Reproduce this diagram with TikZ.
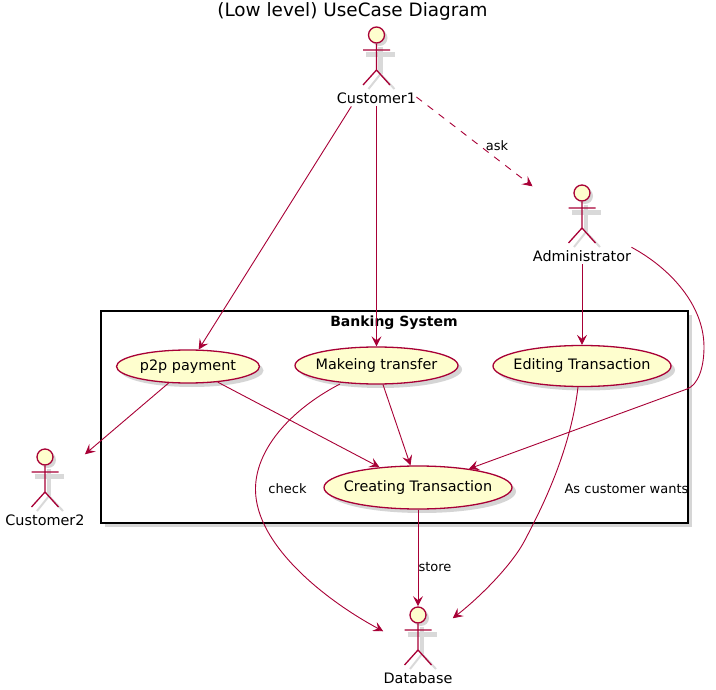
\documentclass[tikz,border=0pt]{standalone}
\usepackage{fontspec}
\setmainfont{DejaVu Sans}
\usetikzlibrary{arrows.meta, fit, shadows, shapes.geometric}

\definecolor{umlline}{HTML}{A80036}
\definecolor{umlfill}{HTML}{FEFECE}
\colorlet{umlshadow}{black!32}
\colorlet{actorshadow}{black!15}

\tikzset{
  usecase/.style={ellipse, draw=umlline, fill=umlfill, line width=1.3pt, inner sep=0pt, font=\fontsize{14.4}{16}\selectfont, drop shadow={shadow xshift=4pt, shadow yshift=-4pt, fill=umlshadow}},
  actorhead/.style={circle, draw=umlline, fill=umlfill, line width=1.3pt, inner sep=0pt, minimum size=16pt, drop shadow={shadow xshift=3pt, shadow yshift=-3pt, fill=umlshadow}},
  actorname/.style={inner sep=0pt, minimum height=16pt, font=\fontsize{14.4}{16}\selectfont},
  edgelabel/.style={inner sep=0pt, font=\fontsize{13}{15}\selectfont},
  conn/.style={draw=umlline, line width=0.9pt, -{Stealth[length=10pt, width=10pt, inset=4pt]}},
}

\newcommand{\umlactor}[4]{
  \begin{scope}[shift={(#2,#3)}]
    \draw[actorshadow, line width=4.5pt] (-10.5,19.5) -- (18.5,19.5) (4,12) -- (4,39);
    \draw[actorshadow, line width=2pt] (-8,54) -- (4,39) -- (18,54);
    \node[actorhead] (#1head) at (0,0) {};
    \draw[umlline, line width=1.3pt] (#1head.south) -- (0,35) -- (-13.5,50) (0,35) -- (13.5,50) (-13.5,15) -- (13.5,15);
    \node[actorname] (#1name) at (0,63) {#4};
  \end{scope}
  \node[fit=(#1head)(#1name), inner sep=0pt] (#1) {};
}

\begin{document}
\begin{tikzpicture}[x=1pt, y=-1pt]
\useasboundingbox (0,0) rectangle (716,690);

\node[font=\fontsize{18.4}{20}\selectfont] (title) at (352.5,11) {(Low level) UseCase Diagram};

% banking system
\node[draw=black, fill=white, line width=1.6pt, minimum width=587pt, minimum height=212pt, inner sep=0pt, drop shadow={shadow xshift=4pt, shadow yshift=-4pt, fill=umlshadow}] (system) at (394.5,417) {};
\node[inner sep=0pt, font=\bfseries\fontsize{14}{16}\selectfont] (systemname) at (394,322.5) {Banking System};

% actors
\umlactor{customerA}{376.5}{35}{Customer1}
\umlactor{admin}{582}{193}{Administrator}
\umlactor{customerB}{45}{457}{Customer2}
\umlactor{database}{418}{615}{Database}

% use cases
\node[usecase, minimum width=143pt, minimum height=33pt] (p2p) at (188,366.5) {\makebox[0pt]{p2p payment}};
\node[usecase, minimum width=163pt, minimum height=37pt] (transfer) at (376.5,365.5) {\makebox[0pt]{Makeing transfer}};
\node[usecase, minimum width=178pt, minimum height=41pt] (editing) at (582,366) {\makebox[0pt]{Editing Transaction}};
\node[usecase, minimum width=188pt, minimum height=43pt] (creating) at (418,487.5) {\makebox[0pt]{Creating Transaction}};

% connectors
\draw[conn] (customerA) -- (p2p);
\draw[conn] (customerA) -- (transfer);
\draw[conn, dashed, dash pattern=on 7pt off 7pt] (customerA) -- (admin);
\draw[conn] (admin) -- (editing);
\draw[conn] (p2p) -- (customerB);
\draw[conn] (p2p) -- (creating);
\draw[conn] (transfer) -- (creating);
\draw[conn] (creating) -- (database);
\draw[conn] ([yshift=-23pt]admin.east) .. controls (670,268) and (704,305) .. (704,347) .. controls (704,368) and (698,385) .. (687,389) -- (creating);
\draw[conn] (340,384) .. controls (290,410) and (255,450) .. (255.5,490) .. controls (256,545) and (325,600) .. ([yshift=15pt]database.west);
\draw[conn] (578,387) .. controls (570,455) and (538,515) .. (525,540) .. controls (512,565) and (480,597) .. ([yshift=28pt]database.east);

% connector labels
\node[edgelabel] (asklabel) at (497,146) {ask};
\node[edgelabel] (checklabel) at (287.5,488.5) {check};
\node[edgelabel] (wantslabel) at (626.5,488.5) {As customer wants};
\node[edgelabel] (storelabel) at (435,567.5) {store};
\end{tikzpicture}
\end{document}
